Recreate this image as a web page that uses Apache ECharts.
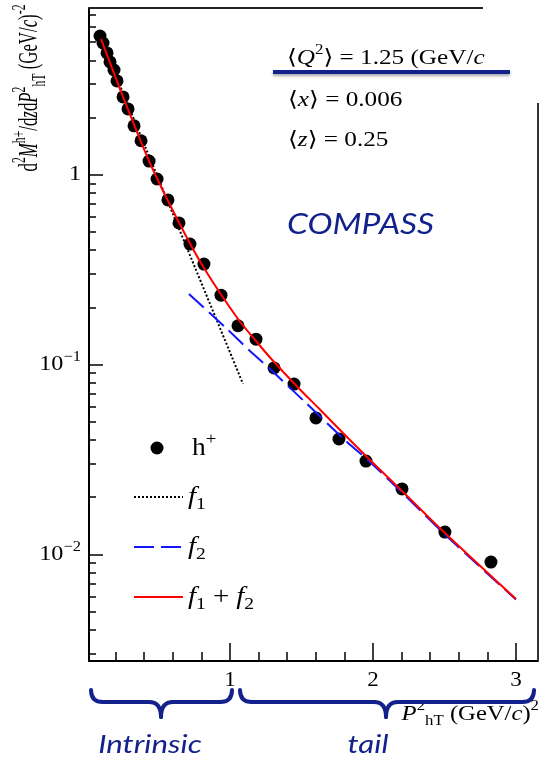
<!DOCTYPE html>
<html><head><meta charset="utf-8">
<script src="https://cdn.jsdelivr.net/npm/echarts@6/dist/echarts.min.js"></script>
<style>html,body{margin:0;padding:0;background:#fff}#c{width:540px;height:761px}</style>
</head><body><div id="c"></div>
<script>
// ---- data ----
const pointX = [0.091,0.112,0.140,0.161,0.189,0.210,0.252,0.287,0.329,0.378,0.434,0.490,0.566,0.643,0.720,0.818,0.937,1.056,1.182,1.308,1.448,1.601,1.762,1.951,2.203,2.503,2.825];
const pointY = [5.38,4.94,4.38,3.93,3.56,3.12,2.57,2.22,1.81,1.51,1.18,0.949,0.736,0.557,0.431,0.338,0.232,0.160,0.136,0.0959,0.0789,0.0523,0.0405,0.0310,0.0221,0.0131,0.0091];
const sumX = [0.098,0.252,0.434,0.643,0.818,1.056,1.182,1.280,1.469,1.629,1.790,1.979,2.203,2.503,3.0];
const sumY = [5.19,2.57,1.181,0.560,0.3224,0.1737,0.1330,0.1089,0.0766,0.0579,0.04356,0.03139,0.02156,0.01295,0.00581];
const f1X = [0.098,0.636,1.091];
const f1Y = [5.15,0.536,0.079];
const f2X = [0.713,0.965,1.140,1.280,1.524,1.804,1.979,2.203,2.503,3.0];
const f2Y = [0.235,0.1576,0.1178,0.0947,0.0635,0.0400,0.03064,0.02117,0.01272,0.00578];
const xMajorTicks = [1,2,3];
const xTickLabels = ['1','2','3'];
const xMinorTicks = [0.2,0.4,0.6,0.8,1.2,1.4,1.6,1.8,2.2,2.4,2.6,2.8];
const yMajorTicks = [0.01,0.1,1];
const yTickLabels = ['10{sup|\u22122}','10{sup|\u22121}','1'];
const yMinorTicks = [0.003,0.004,0.005,0.006,0.007,0.008,0.009,0.02,0.03,0.04,0.05,0.06,0.07,0.08,0.09,0.2,0.3,0.4,0.5,0.6,0.7,0.8,0.9,2,3,4,5,6,7];
const xRange = [0.014, 3.154];
const yRange = [0.002741, 7.555];

const SERIF = "'Liberation Serif','DejaVu Serif',serif";
const SANS_I = "Lato, 'Open Sans', sans-serif";
const NAVY = '#13218c';
const GL = 89, GT = 8, GR = 538, GB = 661;
const SX = 1.2; // horizontal stretch of the reference image

const zip = (a,b) => a.map((v,i)=>[v,b[i]]);
const chart = echarts.init(document.getElementById('c'), null, {renderer:'canvas'});

function rich(fs){
  const s = Math.round(fs*0.68);
  return {
    i: {fontSize: fs, fontFamily: SERIF, fontStyle:'italic', lineHeight: fs+8, color:'#000'},
    sup: {fontSize: s, fontFamily: SERIF, lineHeight: s, verticalAlign:'top', color:'#000'},
    sub: {fontSize: s, fontFamily: SERIF, lineHeight: s, verticalAlign:'bottom', color:'#000'}
  };
}
function txt(x, y, text, fs, opts){
  opts = opts || {};
  return {type:'text', x:x, y:y, z:10, scaleX: opts.sx || SX, scaleY: opts.sy || 1, rotation: opts.rot || 0,
    style:{text:text, rich:rich(fs), fontSize:fs, fontFamily:SERIF, lineHeight:fs+8, fill:'#000',
      align: opts.align || 'left', verticalAlign: opts.va || 'middle'}};
}
function brace(x0, xm, x1){
  const yE = 690, yM = 702, yT = 717, r = 12;
  const st = {stroke:NAVY, lineWidth:4, fill:null, lineCap:'round'};
  return [
    {type:'bezierCurve', z:10, shape:{x1:x0, y1:yE, cpx1:x0, cpy1:yM, x2:x0+r, y2:yM}, style:st},
    {type:'line', z:10, shape:{x1:x0+r, y1:yM, x2:xm-r, y2:yM}, style:st},
    {type:'bezierCurve', z:10, shape:{x1:xm-r, y1:yM, cpx1:xm, cpy1:yM, x2:xm, y2:yT}, style:st},
    {type:'bezierCurve', z:10, shape:{x1:xm, y1:yT, cpx1:xm, cpy1:yM, x2:xm+r, y2:yM}, style:st},
    {type:'line', z:10, shape:{x1:xm+r, y1:yM, x2:x1-r, y2:yM}, style:st},
    {type:'bezierCurve', z:10, shape:{x1:x1-r, y1:yM, cpx1:x1, cpy1:yM, x2:x1, y2:yE}, style:st}
  ];
}

const option = {
  animation: false,
  backgroundColor: '#fff',
  grid: {left: GL, top: GT, width: GR-GL, height: GB-GT, containLabel:false},
  xAxis: [
    {type:'value', min:xRange[0], max:xRange[1], position:'bottom',
     axisLine:{show:true, onZero:false, lineStyle:{color:'#000', width:2}},
     axisTick:{show:true, inside:true, length:18, customValues:xMajorTicks, lineStyle:{color:'#000', width:1.5}},
     axisLabel:{show:false}, splitLine:{show:false}},
    {type:'value', min:xRange[0], max:xRange[1], position:'bottom',
     axisLine:{show:false}, axisLabel:{show:false}, splitLine:{show:false},
     axisTick:{show:true, inside:true, length:9, customValues:xMinorTicks, lineStyle:{color:'#000', width:1.5}}}
  ],
  yAxis: [
    {type:'log', logBase:10, min:yRange[0], max:yRange[1], position:'left',
     axisLine:{show:true, onZero:false, lineStyle:{color:'#000', width:2}},
     axisTick:{show:true, inside:true, length:14, customValues:yMajorTicks, lineStyle:{color:'#000', width:1.5}},
     axisLabel:{show:false}, splitLine:{show:false}},
    {type:'log', logBase:10, min:yRange[0], max:yRange[1], position:'left',
     axisLine:{show:false}, axisLabel:{show:false}, splitLine:{show:false},
     axisTick:{show:true, inside:true, length:7, customValues:yMinorTicks, lineStyle:{color:'#000', width:1.5}}}
  ],
  series: [
    {type:'scatter', name:'h+', data: zip(pointX, pointY), symbol:'circle', symbolSize:13,
     itemStyle:{color:'#000', opacity:1}, z:2},
    {type:'line', name:'f1', data: zip(f1X, f1Y), showSymbol:false, symbol:'none',
     lineStyle:{color:'#000', width:2, type:[2,2]}, z:3},
    {type:'line', name:'f2', data: zip(f2X, f2Y), showSymbol:false, symbol:'none', smooth:0.25,
     lineStyle:{color:'#1515ff', width:2, type:[20,7]}, z:4},
    {type:'line', name:'f1+f2', data: zip(sumX, sumY), showSymbol:false, symbol:'none', smooth:0.25,
     lineStyle:{color:'#ff0000', width:2}, z:5}
  ]
};
chart.setOption(option);

// tick labels placed through the axes' own scales
const tickLabelEls = [];
xMajorTicks.forEach((v,i)=>{
  const px = chart.convertToPixel({xAxisIndex:0}, v);
  tickLabelEls.push(txt(px, GB+19, xTickLabels[i], 21, {align:'center', sx:1.1}));
});
yMajorTicks.forEach((v,i)=>{
  const py = chart.convertToPixel({yAxisIndex:0}, v);
  tickLabelEls.push(txt(GL-8, py, yTickLabels[i], 22, {align:'right', sx:1.1}));
});

chart.setOption({
  graphic: [].concat(
    tickLabelEls,
    [
      // frame (partial, as in reference)
      {type:'line', shape:{x1:GL, y1:GT, x2:483, y2:GT}, style:{stroke:'#222', lineWidth:2}, z:10},
      {type:'line', shape:{x1:GR, y1:103, x2:GR, y2:GB}, style:{stroke:'#333', lineWidth:2}, z:10},
      // annotation
      txt(287, 58, '\u27e8{i|Q}{sup|2}\u27e9 = 1.25 (GeV/{i|c}', 21),
      {type:'line', shape:{x1:273, y1:72, x2:510, y2:72}, style:{stroke:NAVY, lineWidth:4, shadowBlur:3, shadowColor:'rgba(0,0,0,0.35)', shadowOffsetY:2}, z:11},
      txt(288, 100, '\u27e8{i|x}\u27e9 = 0.006', 21),
      txt(288, 140, '\u27e8{i|z}\u27e9 = 0.25', 21),
      {type:'text', x:287, y:225, z:10, scaleX:SX, style:{text:'COMPASS', font:'italic 28px '+SANS_I, fill:NAVY, align:'left', verticalAlign:'middle'}},
      // legend
      {type:'circle', shape:{cx:157, cy:448, r:6.5}, style:{fill:'#000'}, z:10},
      txt(192, 448, 'h{sup|+}', 25, {sx:1.1}),
      {type:'line', shape:{x1:134, y1:497, x2:183, y2:497}, style:{stroke:'#000', lineWidth:2, lineDash:[2,2]}, z:10},
      txt(188, 497, '{i|f}{sub|1}', 25, {sx:1.15}),
      {type:'line', shape:{x1:134, y1:547, x2:183, y2:547}, style:{stroke:'#1515ff', lineWidth:2, lineDash:[20,7]}, z:10},
      txt(188, 547, '{i|f}{sub|2}', 25, {sx:1.15}),
      {type:'line', shape:{x1:134, y1:597, x2:183, y2:597}, style:{stroke:'#ff0000', lineWidth:2}, z:10},
      txt(188, 597, '{i|f}{sub|1} + {i|f}{sub|2}', 25, {sx:1.15}),
      // y axis title (rotated)
      txt(30, 88, 'd{sup|2}{i|M}{sup|h+}/d{i|z}d{i|P}{sup|2}{sub|hT} (GeV/{i|c}){sup|-2}', 20, {rot:Math.PI/2, align:'center', sx:0.84, sy:1.4}),
      // x axis title
      txt(539, 714, '{i|P}{sup|2}{sub|hT} (GeV/{i|c}){sup|2}', 22, {align:'right', sx:1.12}),
      {type:'text', x:150, y:745, z:10, scaleX:SX, style:{text:'Intrinsic', font:'italic 26px '+SANS_I, fill:NAVY, align:'center', verticalAlign:'middle'}},
      {type:'text', x:368, y:745, z:10, scaleX:SX, style:{text:'tail', font:'italic 26px '+SANS_I, fill:NAVY, align:'center', verticalAlign:'middle'}}
    ],
    brace(91, 161, 232),
    brace(240, 386, 534)
  )
});
</script>
</body></html>
